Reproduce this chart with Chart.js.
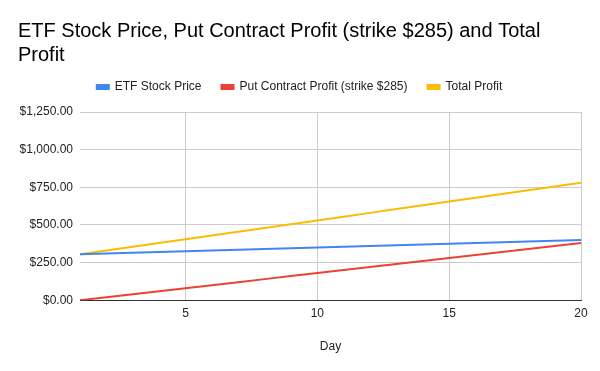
<!DOCTYPE html>
<html>
<head>
<meta charset="utf-8">
<script src="https://cdn.jsdelivr.net/npm/chart.js@4/dist/chart.umd.min.js"></script>
<style>
    html, body { margin: 0; padding: 0; background: #fff; }
    #wrap { width: 600px; height: 371px; position: relative; }
</style>
</head>
<body>
<div id="wrap"><canvas id="profitChart"></canvas></div>
<script>
const days = [1, 2, 3, 4, 5, 6, 7, 8, 9, 10, 11, 12, 13, 14, 15, 16, 17, 18, 19, 20];
const etfPrice = [305, 310, 315, 320, 325, 330, 335, 340, 345, 350, 355, 360, 365, 370, 375, 380, 385, 390, 395, 400];
const putProfit = [0, 20, 40, 60, 80, 100, 120, 140, 160, 180, 200, 220, 240, 260, 280, 300, 320, 340, 360, 380];
const totalProfit = [305, 330, 355, 380, 405, 430, 455, 480, 505, 530, 555, 580, 605, 630, 655, 680, 705, 730, 755, 780];
const xTicks = [5, 10, 15, 20];
const yTicks = [0, 250, 500, 750, 1000, 1250];

const FONT = "'Liberation Sans', Arial, sans-serif";

function formatDollar(v) {
    return "$" + Number(v).toLocaleString("en-US", { minimumFractionDigits: 2, maximumFractionDigits: 2 });
}

function toPoints(values) {
    return values.map((y, i) => ({ x: days[i], y }));
}

function lineSet(label, values, color) {
    return {
        label,
        data: toPoints(values),
        borderColor: color,
        backgroundColor: color,
        borderWidth: 2,
        pointRadius: 0,
        tension: 0,
    };
}

new Chart(document.getElementById("profitChart"), {
    type: "line",
    data: {
        datasets: [
            lineSet("ETF Stock Price", etfPrice, "#4285f4"),
            lineSet("Put Contract Profit (strike $285)", putProfit, "#ea4335"),
            lineSet("Total Profit", totalProfit, "#fbbc04"),
        ],
    },
    options: {
        responsive: true,
        maintainAspectRatio: false,
        animation: false,
        layout: { padding: { left: 18, right: 19, top: 19, bottom: 17 } },
        plugins: {
            title: {
                display: true,
                text: ["ETF Stock Price, Put Contract Profit (strike $285) and Total", "Profit"],
                align: "start",
                color: "#000",
                font: { family: FONT, size: 20, weight: "normal", lineHeight: 1.2 },
                padding: { top: 0, bottom: -6 },
            },
            legend: {
                position: "top",
                labels: {
                    color: "#222",
                    boxWidth: 12,
                    boxHeight: 4,
                    padding: 20,
                    font: { family: FONT, size: 12 },
                },
            },
            // empty spacer between legend and plot
            subtitle: {
                display: true,
                text: " ",
                weight: 500,
                font: { size: 1, lineHeight: 1 },
                padding: { top: 0, bottom: 8 },
            },
            tooltip: { enabled: false },
        },
        scales: {
            x: {
                type: "linear",
                min: 1,
                max: 20,
                afterBuildTicks: (axis) => { axis.ticks = xTicks.map((v) => ({ value: v })); },
                ticks: { color: "#222", font: { family: FONT, size: 12 }, padding: 6, maxRotation: 0 },
                grid: { color: "#ccc", drawTicks: false },
                border: { color: "#333", width: 1 },
                title: {
                    display: true,
                    text: "Day",
                    color: "#222",
                    font: { family: FONT, size: 12 },
                    padding: { top: 13, bottom: 0 },
                },
            },
            y: {
                min: 0,
                max: 1250,
                afterBuildTicks: (axis) => { axis.ticks = yTicks.map((v) => ({ value: v })); },
                afterFit: (axis) => { axis.width = 62; },
                ticks: { color: "#222", font: { family: FONT, size: 12 }, padding: 7, callback: (v) => formatDollar(v) },
                grid: { color: "#ccc", drawTicks: false },
                border: { display: false },
            },
        },
    },
});
</script>
</body>
</html>
